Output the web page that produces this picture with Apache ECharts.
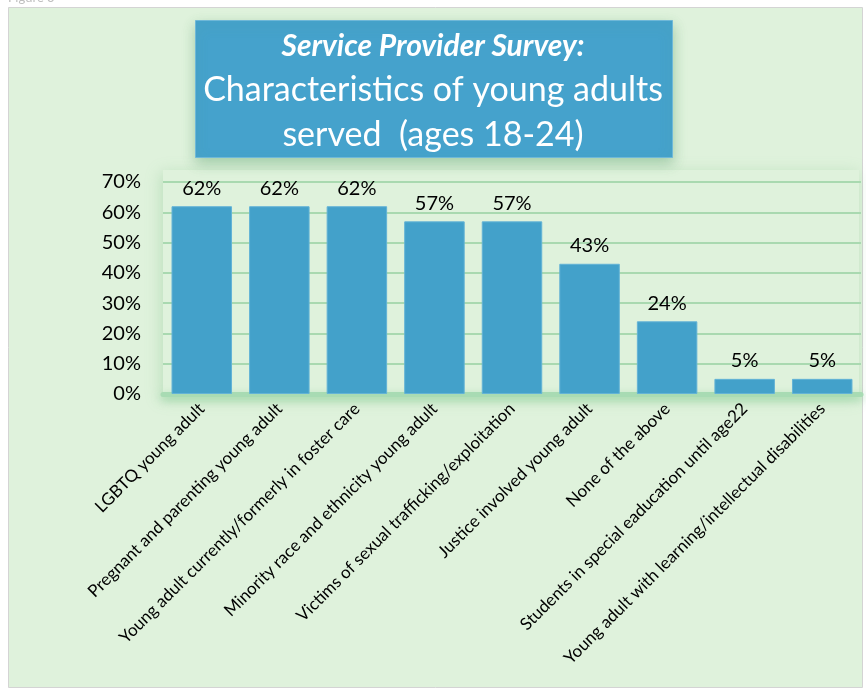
<!DOCTYPE html>
<html>
<head>
<meta charset="utf-8">
<script src="https://cdn.jsdelivr.net/npm/echarts@6/dist/echarts.min.js"></script>
<style>
  html, body { margin: 0; padding: 0; background: #ffffff; }
  #chart { width: 866px; height: 689px; }
</style>
</head>
<body>
<div id="chart"></div>
<script>
// Survey responses: share of providers serving each group of young adults
const categories = [
  'LGBTQ young adult',
  'Pregnant and parenting young adult',
  'Young adult currently/formerly in foster care',
  'Minority race and ethnicity young adult',
  'Victims of sexual trafficking/exploitation',
  'Justice involved young adult',
  'None of the above',
  'Students in special eaducation until age22',
  'Young adult with learning/intellectual disabilities'
];
const percentValues = [62, 62, 62, 57, 57, 43, 24, 5, 5];
const yTicks = [0, 10, 20, 30, 40, 50, 60, 70];

const titleLines = [
  'Service Provider Survey:',
  'Characteristics of young adults',
  'served  (ages 18-24)'
];

const FONT = 'Lato, "Open Sans", sans-serif';
const chart = echarts.init(document.getElementById('chart'), null, { renderer: 'canvas' });

chart.setOption({
  backgroundColor: '#ffffff',
  animation: false,
  graphic: [
    // cropped caption at the very top
    { type: 'text', left: 8, top: -9, z: 0,
      style: { text: 'Figure 3', fill: '#bfbfbf', font: '13px ' + FONT } },
    // pale green panel
    { type: 'rect', left: 8, top: 7, z: -10, silent: true,
      shape: { width: 854, height: 680 },
      style: { fill: '#dff2dc', stroke: '#d4d4d4', lineWidth: 1 } },
    // soft shading behind the plot area
    { type: 'rect', left: 163, top: 170, z: -9, silent: true,
      shape: { width: 696, height: 226 },
      style: { fill: '#dff2dc', shadowBlur: 14, shadowColor: 'rgba(120,190,130,0.35)', shadowOffsetX: -2, shadowOffsetY: 3 } },
    // title box
    { type: 'rect', left: 195, top: 20, z: 10, silent: true,
      shape: { width: 477, height: 137 },
      style: { fill: '#45a2cc', stroke: '#6fb8d8', lineWidth: 1,
               shadowBlur: 12, shadowColor: 'rgba(90,160,110,0.45)', shadowOffsetY: 5 } },
    { type: 'text', z: 11, silent: true, x: 433, y: 46,
      style: { text: titleLines[0], fill: '#ffffff', align: 'center', verticalAlign: 'middle',
               font: 'italic bold 30px ' + FONT } },
    { type: 'text', z: 11, silent: true, x: 433, y: 90,
      style: { text: titleLines[1], fill: '#ffffff', align: 'center', verticalAlign: 'middle',
               font: '34px ' + FONT } },
    { type: 'text', z: 11, silent: true, x: 433, y: 135,
      style: { text: titleLines[2], fill: '#ffffff', align: 'center', verticalAlign: 'middle',
               font: '34px ' + FONT } }
  ],
  grid: { left: 163, right: 5, top: 182, bottom: 295, containLabel: false },
  xAxis: {
    type: 'category',
    data: categories,
    axisTick: { show: false },
    axisLine: { show: true, lineStyle: { color: '#a8dbb3', width: 5, shadowBlur: 8, shadowColor: 'rgba(120,200,140,0.6)', shadowOffsetY: 3 } },
    axisLabel: {
      interval: 0, rotate: 45, margin: 12,
      color: '#000000', fontSize: 17, fontFamily: FONT
    }
  },
  yAxis: {
    type: 'value',
    min: yTicks[0], max: yTicks[yTicks.length - 1], interval: 10,
    axisLine: { show: false },
    axisTick: { show: false },
    axisLabel: { formatter: '{value}%', margin: 22, color: '#000000', fontSize: 20, fontFamily: FONT },
    splitLine: { show: true, lineStyle: { color: '#a9d9b0', width: 2 } }
  },
  series: [{
    type: 'bar',
    data: percentValues,
    barCategoryGap: '22%',
    itemStyle: { color: '#43a1ca', borderColor: '#63b3d6', borderWidth: 1 },
    label: {
      show: true, position: 'top', distance: 8,
      formatter: p => p.value + '%',
      color: '#000000', fontSize: 20, fontFamily: FONT
    },
    z: 5
  }]
});
</script>
</body>
</html>
